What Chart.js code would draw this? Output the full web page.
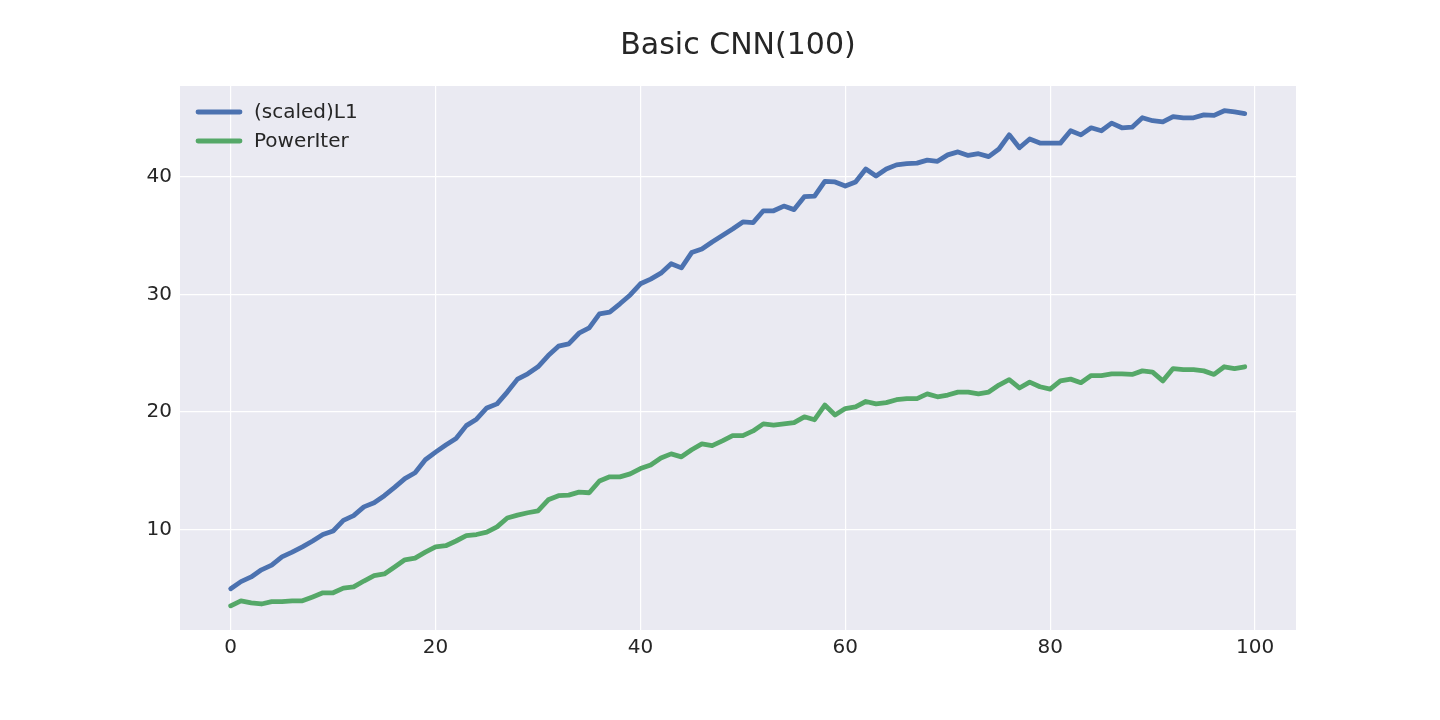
<!DOCTYPE html>
<html>
<head>
<meta charset="utf-8">
<title>Basic CNN(100)</title>
<script src="https://cdn.jsdelivr.net/npm/chart.js@4.4.1/dist/chart.umd.min.js"></script>
<style>
  html, body { margin: 0; padding: 0; background: #ffffff; }
  #wrap { width: 1440px; height: 720px; }
</style>
</head>
<body>
<div id="wrap"><canvas id="chart" width="1440" height="720"></canvas></div>
<script>
// x positions: epoch index 0..99
const epochs = Array.from({ length: 100 }, (_, i) => i);

const seriesNames = ['(scaled)L1', 'PowerIter'];

const scaledL1 = [
  5.0, 5.6, 6.0, 6.6, 7.0, 7.7, 8.1, 8.55, 9.05, 9.6,
  9.9, 10.8, 11.2, 11.95, 12.3, 12.9, 13.6, 14.35, 14.85, 15.95,
  16.6, 17.2, 17.75, 18.85, 19.4, 20.35, 20.7, 21.7, 22.8, 23.25,
  23.85, 24.8, 25.6, 25.8, 26.7, 27.15, 28.35, 28.5, 29.2, 29.95,
  30.9, 31.3, 31.8, 32.6, 32.25, 33.55, 33.85, 34.45, 35.0, 35.55,
  36.15, 36.1, 37.1, 37.1, 37.5, 37.2, 38.3, 38.35, 39.6, 39.55,
  39.2, 39.55, 40.65, 40.05, 40.65, 41.0, 41.1, 41.15, 41.4, 41.3,
  41.85, 42.1, 41.8, 41.95, 41.7, 42.35, 43.55, 42.45, 43.2, 42.85,
  42.85, 42.85, 43.9, 43.55, 44.15, 43.9, 44.55, 44.15, 44.2, 45.0,
  44.75, 44.65, 45.1, 45.0, 45.0, 45.25, 45.2, 45.6, 45.5, 45.35
];

const powerIter = [
  3.54, 3.97, 3.8, 3.7, 3.9, 3.9, 3.97, 3.97, 4.3, 4.65,
  4.65, 5.05, 5.15, 5.65, 6.1, 6.25, 6.85, 7.45, 7.6, 8.1,
  8.55, 8.65, 9.05, 9.5, 9.6, 9.8, 10.25, 11.0, 11.25, 11.45,
  11.6, 12.55, 12.9, 12.95, 13.2, 13.15, 14.15, 14.5, 14.5, 14.75,
  15.2, 15.5, 16.1, 16.45, 16.2, 16.8, 17.3, 17.15, 17.55, 18.0,
  18.0, 18.4, 19.0, 18.9, 19.0, 19.1, 19.6, 19.35, 20.6, 19.75,
  20.3, 20.45, 20.9, 20.7, 20.8, 21.05, 21.15, 21.15, 21.55, 21.3,
  21.45, 21.7, 21.7, 21.55, 21.7, 22.3, 22.75, 22.05, 22.55, 22.15,
  21.95, 22.65, 22.8, 22.5, 23.1, 23.1, 23.25, 23.25, 23.2, 23.5,
  23.4, 22.65, 23.7, 23.6, 23.6, 23.5, 23.2, 23.85, 23.7, 23.85
];

const xTicks = [0, 20, 40, 60, 80, 100];
const yTicks = [10, 20, 30, 40];

const seriesColors = ['#4c72b0', '#55a868'];
const textColor = '#262626';
const fontFamily = '"DejaVu Sans", sans-serif';
const lineW = 4.8;

function toPoints(values) {
  return values.map((v, i) => ({ x: epochs[i], y: v }));
}

// grey plot background like seaborn darkgrid
const plotBackground = {
  id: 'plotBackground',
  beforeDraw(chart) {
    const { ctx, chartArea } = chart;
    ctx.save();
    ctx.fillStyle = '#eaeaf2';
    ctx.fillRect(chartArea.left, chartArea.top, chartArea.right - chartArea.left, chartArea.bottom - chartArea.top);
    ctx.restore();
  }
};

// legend drawn inside the plot, upper left
const insideLegend = {
  id: 'insideLegend',
  afterDatasetsDraw(chart) {
    const { ctx, chartArea } = chart;
    const x0 = chartArea.left + 18;
    let y = chartArea.top + 26;
    ctx.save();
    ctx.font = '20px ' + fontFamily;
    ctx.textBaseline = 'middle';
    chart.data.datasets.forEach(ds => {
      ctx.strokeStyle = ds.borderColor;
      ctx.lineWidth = lineW;
      ctx.lineCap = 'round';
      ctx.beginPath();
      ctx.moveTo(x0, y);
      ctx.lineTo(x0 + 42, y);
      ctx.stroke();
      ctx.fillStyle = textColor;
      ctx.fillText(ds.label, x0 + 56, y + 1);
      y += 29;
    });
    ctx.restore();
  }
};

new Chart(document.getElementById('chart').getContext('2d'), {
  type: 'line',
  data: {
    datasets: [
      {
        label: seriesNames[0],
        data: toPoints(scaledL1),
        borderColor: seriesColors[0],
        borderWidth: lineW,
        borderJoinStyle: 'round',
        borderCapStyle: 'round',
        pointRadius: 0,
        tension: 0,
        fill: false
      },
      {
        label: seriesNames[1],
        data: toPoints(powerIter),
        borderColor: seriesColors[1],
        borderWidth: lineW,
        borderJoinStyle: 'round',
        borderCapStyle: 'round',
        pointRadius: 0,
        tension: 0,
        fill: false
      }
    ]
  },
  options: {
    responsive: false,
    animation: false,
    layout: { padding: { left: 0, right: 144, top: 0, bottom: 0 } },
    plugins: {
      legend: { display: false },
      tooltip: { enabled: false },
      title: {
        display: true,
        text: 'Basic CNN(100)',
        fullSize: false,
        color: textColor,
        font: { family: fontFamily, size: 30, weight: 'normal' },
        padding: { top: 28, bottom: 22 }
      }
    },
    scales: {
      x: {
        type: 'linear',
        min: -4.95,
        max: 104,
        afterBuildTicks: axis => { axis.ticks = xTicks.map(v => ({ value: v })); },
        afterFit: axis => { axis.height = 90; },
        border: { display: false },
        grid: { color: '#ffffff', lineWidth: 1.2, drawTicks: false },
        ticks: {
          color: textColor,
          padding: 6,
          maxRotation: 0,
          font: { family: fontFamily, size: 20 }
        }
      },
      y: {
        type: 'linear',
        min: 1.49,
        max: 47.7,
        afterBuildTicks: axis => { axis.ticks = yTicks.map(v => ({ value: v })); },
        afterFit: axis => { axis.width = 180; },
        border: { display: false },
        grid: { color: '#ffffff', lineWidth: 1.2, drawTicks: false },
        ticks: {
          color: textColor,
          padding: 8,
          font: { family: fontFamily, size: 20 }
        }
      }
    }
  },
  plugins: [plotBackground, insideLegend]
});
</script>
</body>
</html>
